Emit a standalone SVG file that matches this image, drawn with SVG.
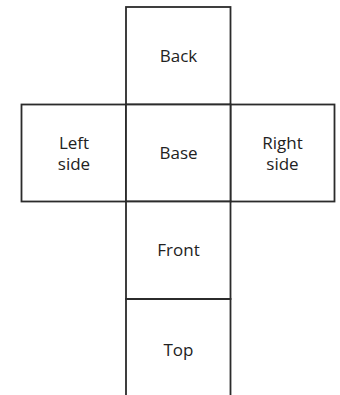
<svg xmlns="http://www.w3.org/2000/svg" width="340" height="395" viewBox="0 0 340 395">
<style>
.face{fill:#fff;stroke:#2b2b2b;stroke-width:1.8}
.lbl{font-family:"Open Sans",sans-serif;font-size:17px;fill:#222;text-anchor:middle}
</style>
<rect width="340" height="395" fill="#fff"/>
<g id="back"><rect class="face" x="126" y="7" width="104.5" height="97.5"/><text class="lbl" x="178.5" y="61.5">Back</text></g>
<g id="left"><rect class="face" x="21.5" y="104.5" width="104.5" height="97"/><text class="lbl" x="74" y="148.5">Left</text><text class="lbl" x="74" y="170">side</text></g>
<g id="right"><rect class="face" x="230.5" y="104.5" width="104" height="97"/><text class="lbl" x="282.5" y="148.5">Right</text><text class="lbl" x="282.5" y="170">side</text></g>
<g id="base"><rect class="face" x="126" y="104.5" width="104.5" height="97"/><text class="lbl" x="178.5" y="159">Base</text></g>
<g id="front"><rect class="face" x="126" y="201.5" width="104.5" height="97.5"/><text class="lbl" x="178.5" y="255.5">Front</text></g>
<g id="top"><path class="face" d="M126,396 V299 H230.5 V396"/><text class="lbl" x="178.5" y="355.5">Top</text></g>
</svg>
